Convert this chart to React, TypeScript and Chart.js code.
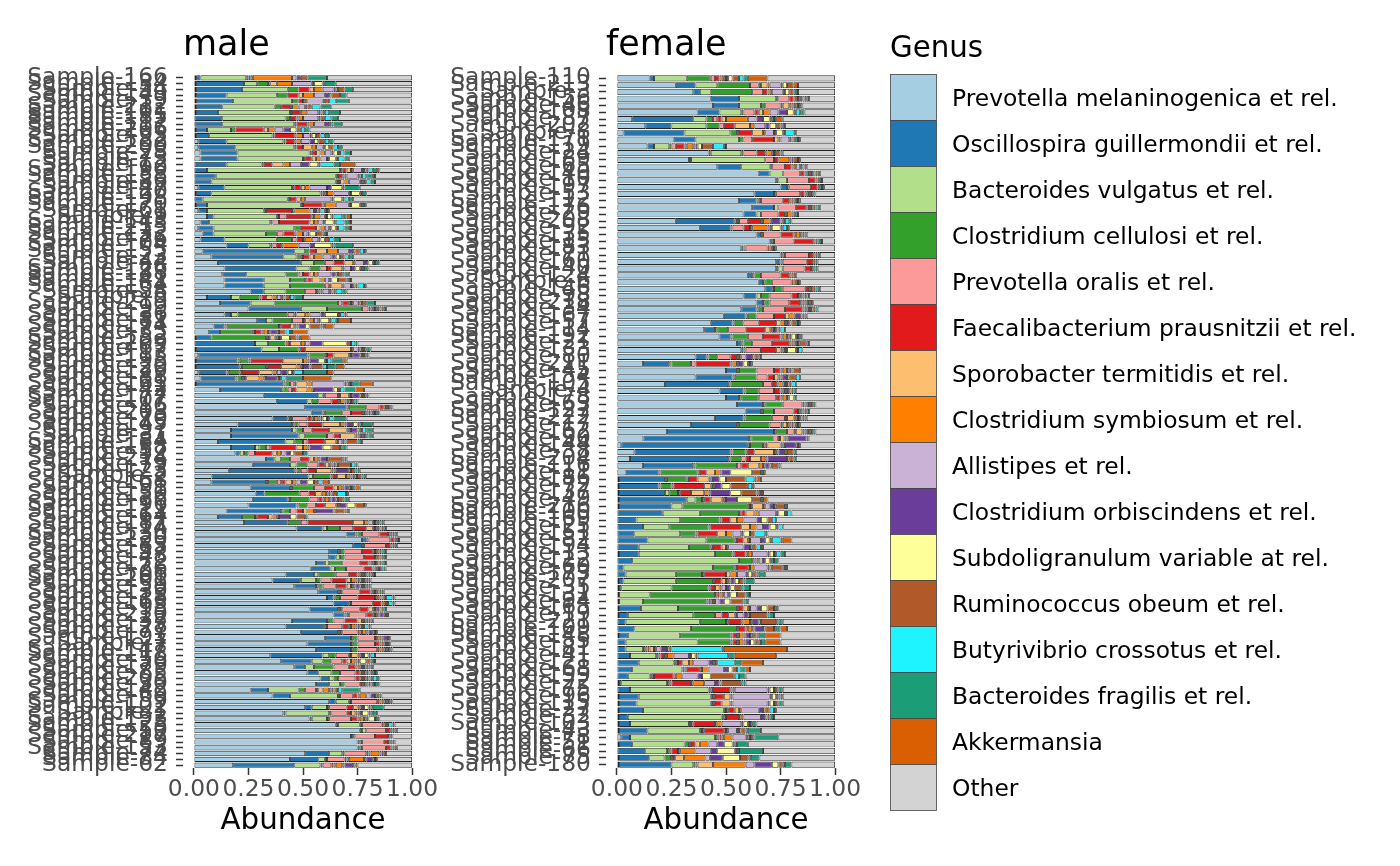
import React, { useEffect, useRef } from 'react';
import Chart from 'chart.js/auto';

const FONT = '"DejaVu Sans", sans-serif';

const genera = [
  'Prevotella melaninogenica et rel.',
  'Oscillospira guillermondii et rel.',
  'Bacteroides vulgatus et rel.',
  'Clostridium cellulosi et rel.',
  'Prevotella oralis et rel.',
  'Faecalibacterium prausnitzii et rel.',
  'Sporobacter termitidis et rel.',
  'Clostridium symbiosum et rel.',
  'Allistipes et rel.',
  'Clostridium orbiscindens et rel.',
  'Subdoligranulum variable at rel.',
  'Ruminococcus obeum et rel.',
  'Butyrivibrio crossotus et rel.',
  'Bacteroides fragilis et rel.',
  'Akkermansia',
  'Other',
];

const genusColors = [
  '#A6CEE3', '#1F78B4', '#B2DF8A', '#33A02C', '#FB9A99', '#E31A1C', '#FDBF6F', '#FF7F00',
  '#CAB2D6', '#6A3D9A', '#FFFF99', '#B15928', '#1EF4FF', '#1B9E77', '#D95F02', '#D3D3D3',
];

const xTicks = [0, 0.25, 0.5, 0.75, 1];

// sample ids, top to bottom
const maleIds = [
  166, 134, 54, 149, 39, 212, 101, 185, 117, 206, 93, 182, 200, 28, 73, 12, 190, 158, 86, 47,
  120, 198, 170, 61, 9, 143, 215, 132, 76, 104, 155, 23, 44, 126, 188, 141, 164, 58, 5, 219,
  99, 136, 81, 174, 33, 152, 209, 67, 113, 195, 20, 129, 88, 161, 42, 177, 107, 16, 203, 70,
  145, 97, 31, 184, 138, 52, 214, 79, 123, 2, 168, 91, 150, 36, 196, 111, 64, 187, 14, 130,
  220, 83, 157, 48, 172, 26, 106, 201, 59, 139, 18, 163, 95, 210, 37, 128, 77, 191, 7, 147,
  118, 56, 179, 85, 205, 30, 142, 69, 159, 102, 1, 193, 125, 50, 217, 89, 153, 74, 84, 62,
];

const femaleIds = [
  110, 213, 3, 156, 46, 108, 87, 202, 8, 171, 119, 24, 189, 65, 140, 10, 197, 53, 112, 176,
  29, 208, 92, 135, 15, 183, 71, 160, 40, 124, 6, 146, 98, 218, 34, 167, 57, 114, 192, 21,
  133, 80, 211, 45, 154, 105, 4, 178, 63, 127, 222, 17, 162, 90, 144, 38, 204, 116, 11, 186,
  72, 137, 49, 216, 100, 169, 25, 151, 82, 194, 13, 122, 60, 173, 207, 35, 131, 94, 165, 19,
  221, 109, 148, 55, 181, 41, 121, 68, 199, 22, 175, 96, 115, 27, 32, 103, 43, 78, 51, 66,
  75, 180,
];

// male, % per sample (top to bottom)
const mPrevMel = [
  1, 1, 1, 1, 1, 1, 1, 0, 0, 1, 1, 2, 2, 3, 3, 0, 0, 0, 0, 2, 1, 0, 1, 2, 6, 3, 2, 4, 3, 15,
  4, 8, 11, 14, 13, 14, 14, 26, 6, 12, 25, 14, 29, 9, 7, 1, 0, 1, 2, 1, 1, 2, 3, 1, 12, 32, 38, 51, 54, 36,
  20, 17, 17, 11, 17, 19, 33, 27, 16, 8, 8, 26, 28, 27, 25, 15, 11, 23, 47, 70, 77, 73, 62, 62, 56, 53, 42, 36, 46, 57,
  61, 64, 53, 64, 45, 42, 49, 60, 52, 56, 35, 40, 46, 52, 58, 56, 26, 36, 62, 51, 41, 53, 65, 76, 72, 75, 75, 51, 44, 18,
];
const mOsci = [
  2, 22, 21, 14, 17, 12, 10, 13, 13, 5, 6, 13, 17, 17, 17, 15, 6, 10, 8, 12, 7, 4, 5, 4, 3, 4, 7, 5, 11, 10,
  42, 33, 38, 33, 11, 18, 18, 6, 11, 14, 24, 3, 4, 5, 5, 7, 28, 30, 50, 19, 20, 13, 16, 40, 28, 25, 14, 19, 5, 7,
  25, 28, 31, 31, 11, 2, 4, 17, 30, 44, 25, 18, 4, 16, 22, 25, 11, 20, 12, 4, 2, 4, 4, 3, 4, 9, 13, 13, 10, 9,
  3, 7, 13, 5, 16, 18, 17, 12, 20, 16, 24, 14, 5, 5, 4, 6, 8, 8, 3, 3, 1, 1, 1, 1, 1, 1, 1, 11, 13, 28,
];
const mBactVulg = [
  21, 6, 21, 23, 27, 24, 33, 29, 33, 11, 29, 26, 27, 33, 30, 16, 61, 55, 57, 31, 50, 39, 43, 26, 29, 28, 37, 24, 24, 10,
  5, 6, 6, 6, 18, 12, 12, 10, 4, 11, 12, 3, 3, 1, 0, 0, 6, 8, 1, 1, 1, 1, 1, 1, 1, 2, 2, 1, 1, 1,
  1, 2, 3, 4, 2, 2, 3, 3, 1, 2, 1, 1, 0, 1, 1, 1, 0, 0, 2, 1, 1, 1, 1, 2, 2, 2, 2, 7, 1, 1,
  1, 1, 1, 1, 1, 1, 1, 1, 1, 1, 3, 5, 4, 6, 2, 5, 14, 22, 6, 7, 20, 7, 10, 2, 1, 1, 1, 6, 3, 12,
];
const mClosCell = [
  1, 5, 5, 5, 3, 3, 1, 2, 1, 2, 1, 1, 1, 1, 1, 1, 1, 1, 1, 1, 1, 1, 1, 1, 1, 1, 3, 5, 7, 1,
  2, 2, 5, 5, 6, 7, 16, 9, 9, 29, 16, 23, 9, 24, 15, 25, 8, 9, 7, 4, 11, 5, 2, 2, 2, 1, 3, 8, 8, 1,
  2, 3, 10, 4, 3, 2, 4, 5, 2, 8, 4, 10, 16, 9, 4, 3, 6, 6, 6, 2, 0, 0, 2, 2, 6, 5, 8, 2, 2, 1,
  2, 0, 1, 1, 2, 0, 1, 2, 2, 2, 3, 4, 9, 4, 2, 2, 3, 1, 1, 1, 1, 1, 1, 0, 0, 0, 0, 1, 1, 1,
];
const mPrevOral = [
  0, 1, 0, 0, 0, 0, 0, 0, 0, 0, 0, 0, 0, 0, 0, 0, 0, 0, 0, 0, 0, 0, 0, 0, 3, 3, 0, 3, 2, 2,
  0, 1, 4, 3, 2, 1, 2, 5, 1, 2, 3, 3, 5, 1, 1, 1, 1, 1, 1, 1, 1, 1, 1, 2, 2, 6, 6, 6, 4, 7,
  4, 4, 3, 2, 2, 3, 5, 5, 3, 1, 2, 5, 4, 4, 4, 3, 1, 3, 6, 8, 10, 10, 8, 9, 8, 8, 6, 5, 6, 8,
  8, 10, 8, 8, 5, 7, 7, 8, 8, 9, 6, 5, 7, 7, 8, 7, 5, 6, 12, 8, 7, 10, 9, 9, 9, 10, 11, 10, 8, 4,
];
const mFaecal = [
  1, 0, 5, 5, 2, 4, 4, 3, 5, 13, 9, 4, 3, 2, 3, 4, 2, 2, 1, 3, 1, 3, 9, 12, 12, 14, 7, 5, 3, 2,
  3, 3, 5, 2, 3, 2, 1, 1, 2, 3, 1, 1, 1, 4, 3, 1, 1, 2, 3, 15, 6, 8, 1, 1, 2, 1, 3, 2, 5, 2,
  7, 8, 3, 8, 12, 8, 4, 3, 4, 2, 2, 4, 3, 2, 4, 3, 5, 21, 6, 4, 2, 2, 5, 5, 4, 4, 4, 7, 5, 5,
  8, 4, 4, 3, 6, 3, 1, 1, 2, 1, 1, 2, 3, 2, 2, 1, 1, 2, 1, 3, 2, 3, 1, 2, 6, 2, 2, 1, 1, 1,
];
const mSporo = [
  1, 3, 2, 2, 1, 1, 0, 1, 1, 2, 1, 1, 4, 2, 2, 5, 2, 1, 2, 2, 1, 2, 1, 1, 1, 2, 2, 1, 1, 1,
  5, 2, 4, 5, 2, 4, 5, 1, 3, 1, 1, 4, 2, 2, 1, 2, 5, 21, 7, 9, 7, 6, 6, 5, 5, 4, 1, 1, 1, 1,
  8, 8, 7, 5, 3, 2, 2, 2, 7, 4, 3, 2, 3, 1, 5, 2, 2, 5, 3, 1, 0, 1, 1, 1, 1, 1, 1, 2, 2, 1,
  1, 1, 2, 1, 2, 1, 1, 1, 1, 1, 3, 2, 1, 1, 1, 1, 2, 1, 1, 2, 2, 1, 1, 0, 1, 1, 1, 1, 1, 1,
];
const mClosSymb = [
  18, 7, 4, 5, 1, 3, 3, 2, 2, 3, 3, 2, 2, 2, 2, 3, 1, 1, 2, 2, 3, 2, 5, 7, 3, 2, 2, 3, 3, 7,
  5, 4, 1, 1, 2, 2, 1, 1, 2, 1, 1, 2, 2, 1, 2, 1, 2, 1, 1, 2, 2, 2, 2, 2, 2, 1, 2, 1, 1, 2,
  2, 1, 1, 1, 2, 2, 2, 1, 1, 2, 2, 2, 2, 2, 1, 3, 2, 2, 1, 1, 0, 0, 1, 1, 1, 1, 1, 2, 1, 1,
  1, 1, 1, 1, 1, 2, 2, 1, 1, 1, 1, 2, 1, 1, 1, 1, 3, 3, 1, 1, 1, 2, 1, 1, 0, 1, 1, 4, 7, 3,
];
const mAlis = [
  2, 9, 5, 5, 7, 3, 5, 7, 5, 4, 3, 4, 3, 3, 3, 5, 4, 5, 5, 8, 7, 12, 6, 2, 2, 2, 2, 2, 3, 5,
  5, 4, 4, 3, 6, 2, 3, 3, 2, 2, 1, 5, 2, 1, 1, 1, 2, 2, 1, 1, 1, 2, 1, 15, 1, 1, 1, 0, 1, 1,
  1, 1, 1, 2, 1, 2, 1, 1, 1, 1, 2, 1, 1, 1, 1, 1, 1, 2, 1, 0, 0, 0, 1, 1, 1, 1, 1, 1, 1, 1,
  1, 0, 1, 1, 1, 1, 1, 1, 1, 1, 1, 1, 1, 1, 1, 1, 1, 2, 1, 1, 1, 1, 0, 0, 0, 0, 0, 1, 1, 1,
];
const mClosOrb = [
  2, 1, 1, 2, 1, 1, 1, 1, 2, 3, 1, 2, 1, 1, 1, 4, 1, 1, 1, 2, 1, 1, 1, 1, 1, 1, 1, 1, 1, 2,
  2, 2, 2, 2, 2, 1, 1, 1, 1, 1, 1, 2, 1, 3, 3, 1, 6, 1, 3, 4, 3, 3, 5, 1, 9, 3, 1, 0, 1, 1,
  3, 3, 1, 1, 6, 2, 3, 1, 6, 1, 3, 2, 1, 2, 3, 8, 5, 1, 1, 0, 0, 0, 0, 0, 1, 0, 1, 1, 2, 0,
  0, 0, 1, 2, 1, 1, 2, 2, 1, 0, 1, 1, 1, 1, 1, 1, 1, 2, 0, 1, 1, 1, 0, 0, 0, 0, 0, 1, 3, 4,
];
const mSubdol = [
  0, 4, 1, 1, 0, 0, 1, 0, 0, 3, 2, 2, 2, 2, 3, 4, 1, 1, 1, 5, 4, 4, 4, 1, 2, 4, 2, 3, 2, 8,
  1, 2, 2, 2, 1, 3, 1, 1, 1, 1, 1, 6, 4, 2, 1, 4, 11, 1, 1, 3, 1, 2, 1, 1, 2, 1, 1, 0, 1, 2,
  2, 1, 1, 1, 4, 2, 1, 1, 1, 1, 3, 1, 1, 1, 4, 1, 3, 1, 1, 0, 0, 0, 0, 0, 1, 0, 1, 1, 1, 1,
  1, 0, 1, 0, 0, 1, 1, 0, 0, 1, 2, 3, 1, 1, 1, 1, 1, 1, 1, 2, 3, 3, 0, 0, 0, 0, 0, 0, 1, 1,
];
const mRumin = [
  3, 1, 3, 4, 2, 2, 1, 2, 1, 2, 2, 3, 2, 1, 1, 1, 1, 0, 1, 1, 1, 1, 1, 1, 1, 1, 1, 3, 2, 1,
  2, 2, 1, 1, 2, 4, 1, 1, 2, 2, 1, 1, 1, 5, 3, 3, 2, 1, 1, 1, 5, 1, 1, 1, 1, 1, 1, 1, 1, 1,
  1, 1, 1, 5, 4, 4, 6, 6, 2, 2, 2, 1, 2, 2, 4, 4, 4, 1, 1, 1, 1, 1, 1, 1, 1, 1, 1, 1, 1, 1,
  1, 1, 1, 1, 1, 1, 1, 1, 1, 1, 1, 2, 1, 1, 1, 1, 1, 1, 1, 1, 1, 1, 0, 1, 1, 1, 1, 1, 1, 1,
];
const mButy = [
  0, 0, 0, 0, 3, 4, 2, 3, 1, 2, 2, 2, 2, 2, 3, 6, 2, 2, 2, 0, 0, 2, 1, 2, 4, 4, 3, 1, 2, 1,
  2, 2, 1, 1, 1, 1, 3, 3, 2, 0, 0, 2, 2, 1, 2, 1, 2, 1, 1, 2, 2, 4, 2, 1, 2, 1, 1, 1, 1, 2,
  1, 2, 1, 1, 1, 1, 1, 2, 1, 1, 2, 1, 4, 1, 1, 1, 1, 1, 1, 1, 0, 0, 1, 0, 1, 1, 1, 1, 1, 0,
  3, 2, 1, 0, 1, 2, 0, 0, 0, 1, 2, 1, 1, 1, 2, 1, 2, 0, 0, 1, 1, 0, 2, 1, 0, 0, 0, 0, 0, 0,
];
const mBactFrag = [
  9, 5, 4, 3, 6, 5, 5, 3, 4, 2, 2, 2, 2, 3, 2, 3, 2, 3, 2, 7, 2, 2, 1, 1, 2, 2, 2, 1, 3, 8,
  1, 2, 1, 2, 2, 1, 1, 2, 4, 4, 1, 1, 1, 1, 1, 1, 1, 2, 1, 5, 4, 11, 8, 3, 5, 1, 1, 0, 1, 6,
  5, 3, 2, 1, 2, 1, 1, 1, 1, 1, 0, 0, 1, 2, 0, 1, 0, 1, 0, 0, 1, 1, 1, 1, 1, 1, 1, 1, 1, 1,
  1, 1, 0, 1, 0, 1, 0, 0, 0, 0, 0, 1, 1, 1, 1, 1, 8, 1, 1, 5, 2, 1, 1, 0, 0, 0, 0, 0, 0, 0,
];
const mAkker = [
  0, 0, 0, 0, 0, 0, 0, 0, 0, 0, 0, 0, 0, 0, 0, 7, 1, 1, 0, 0, 0, 0, 0, 1, 2, 1, 1, 0, 0, 0,
  0, 0, 0, 0, 0, 0, 0, 0, 0, 0, 0, 0, 6, 4, 7, 4, 0, 0, 0, 2, 4, 3, 13, 6, 4, 0, 0, 0, 0, 0,
  0, 0, 0, 0, 0, 0, 0, 0, 0, 0, 3, 2, 0, 0, 0, 0, 0, 0, 0, 0, 0, 0, 0, 0, 0, 0, 0, 1, 1, 0,
  0, 0, 0, 0, 0, 0, 0, 0, 0, 0, 0, 0, 0, 0, 0, 0, 0, 0, 0, 0, 0, 0, 0, 0, 0, 0, 0, 0, 0, 0,
];
const mOther = [
  39, 35, 27, 30, 29, 37, 33, 34, 32, 47, 38, 36, 32, 28, 29, 26, 15, 17, 17, 24, 21, 27, 21, 38, 28, 28, 28, 39, 33, 27,
  21, 27, 15, 20, 29, 28, 21, 30, 50, 17, 12, 30, 28, 36, 48, 47, 25, 19, 20, 30, 31, 36, 37, 18, 22, 20, 25, 9, 15, 30,
  18, 18, 18, 23, 30, 48, 30, 25, 24, 21, 38, 24, 29, 29, 21, 29, 48, 13, 12, 7, 6, 7, 12, 12, 12, 12, 17, 19, 19, 13,
  8, 8, 12, 11, 18, 19, 16, 10, 10, 9, 17, 17, 18, 16, 15, 15, 24, 14, 9, 13, 16, 15, 8, 7, 9, 8, 7, 12, 16, 25,
];

// female, % per sample (top to bottom)
const fPrevMel = [
  15, 27, 35, 43, 44, 37, 7, 13, 3, 26, 14, 42, 33, 46, 65, 73, 75, 63, 56, 62, 58, 27, 38, 64, 70, 57, 75, 73, 73, 60,
  65, 68, 58, 64, 57, 49, 43, 40, 47, 55, 57, 36, 12, 50, 36, 22, 47, 50, 55, 59, 45, 34, 23, 12, 2, 8, 6, 12, 4, 1,
  1, 1, 1, 1, 0, 0, 0, 0, 0, 0, 1, 0, 0, 0, 1, 1, 0, 0, 1, 1, 0, 0, 1, 0, 0, 0, 0, 0, 0, 1,
  0, 1, 1, 1, 1, 1, 1, 2, 1, 0, 1, 1,
];
const fOsci = [
  2, 9, 3, 13, 12, 10, 28, 12, 28, 10, 3, 1, 1, 11, 5, 1, 3, 9, 8, 10, 6, 27, 14, 2, 1, 1, 1, 2, 1, 2,
  2, 3, 6, 3, 7, 10, 10, 5, 5, 2, 1, 5, 12, 5, 17, 29, 11, 6, 12, 7, 13, 21, 49, 48, 58, 44, 45, 23, 15, 21,
  18, 21, 31, 24, 21, 9, 12, 8, 14, 10, 9, 7, 3, 4, 2, 1, 1, 1, 10, 4, 4, 8, 4, 4, 4, 6, 10, 7, 5, 1,
  6, 9, 8, 11, 4, 5, 13, 4, 6, 13, 14, 24,
];
const fBactVulg = [
  15, 10, 5, 17, 10, 10, 6, 16, 21, 20, 7, 14, 34, 13, 6, 4, 1, 1, 1, 2, 2, 1, 1, 1, 1, 1, 1, 1, 2, 1,
  1, 1, 2, 1, 1, 1, 1, 1, 1, 1, 1, 1, 1, 1, 1, 1, 1, 1, 1, 1, 1, 1, 1, 1, 1, 1, 1, 1, 1, 1,
  1, 2, 4, 5, 17, 20, 12, 21, 27, 23, 35, 49, 41, 23, 24, 23, 14, 11, 17, 30, 34, 26, 24, 33, 8, 12, 16, 23, 10, 21,
  36, 33, 34, 37, 43, 27, 24, 39, 24, 10, 7, 10,
];
const fClosCell = [
  11, 15, 19, 1, 2, 1, 3, 6, 3, 2, 1, 1, 0, 1, 0, 0, 0, 0, 1, 0, 0, 1, 0, 0, 0, 0, 0, 0, 0, 3,
  3, 4, 4, 2, 2, 4, 4, 5, 7, 4, 0, 4, 9, 8, 10, 15, 6, 8, 8, 5, 12, 14, 5, 10, 6, 6, 5, 19, 17, 9,
  5, 4, 3, 30, 18, 18, 18, 7, 13, 10, 8, 6, 10, 12, 17, 17, 30, 29, 27, 10, 12, 21, 23, 15, 1, 1, 1, 1, 1, 1,
  1, 1, 1, 1, 1, 1, 1, 1, 2, 1, 3, 1,
];
const fPrevOral = [
  2, 4, 5, 5, 7, 5, 2, 2, 1, 4, 2, 6, 4, 6, 8, 10, 10, 11, 10, 8, 8, 4, 5, 8, 9, 10, 11, 11, 10, 9,
  9, 10, 10, 9, 10, 8, 7, 8, 7, 9, 7, 6, 2, 8, 5, 4, 7, 8, 9, 9, 6, 5, 3, 2, 1, 1, 2, 2, 1, 1,
  1, 1, 1, 1, 1, 1, 1, 1, 1, 1, 1, 1, 1, 1, 1, 1, 1, 1, 1, 3, 1, 1, 1, 1, 1, 1, 1, 1, 1, 1,
  1, 1, 1, 1, 1, 1, 1, 1, 1, 1, 1, 1,
];
const fFaecal = [
  2, 1, 2, 2, 1, 2, 2, 5, 6, 10, 4, 4, 2, 3, 2, 3, 3, 2, 3, 5, 3, 6, 3, 6, 9, 1, 2, 3, 3, 4,
  1, 2, 3, 5, 8, 5, 8, 9, 8, 8, 7, 3, 16, 3, 3, 2, 3, 2, 1, 2, 1, 1, 1, 1, 1, 3, 2, 3, 3, 4,
  14, 5, 3, 1, 2, 4, 14, 9, 3, 4, 5, 0, 5, 10, 3, 2, 1, 1, 2, 3, 6, 3, 2, 2, 1, 2, 2, 6, 9, 9,
  8, 4, 3, 3, 6, 10, 9, 1, 2, 3, 1, 0,
];
const fSporo = [
  1, 3, 1, 1, 3, 2, 2, 7, 5, 2, 1, 1, 0, 1, 1, 1, 0, 1, 1, 1, 1, 1, 1, 1, 1, 1, 1, 0, 0, 1,
  1, 1, 1, 1, 1, 2, 2, 2, 1, 1, 2, 1, 1, 1, 2, 1, 1, 1, 1, 1, 3, 2, 3, 2, 6, 9, 5, 5, 4, 5,
  3, 6, 5, 5, 4, 3, 4, 4, 2, 2, 1, 1, 1, 2, 2, 2, 1, 1, 2, 3, 1, 1, 1, 1, 2, 1, 3, 1, 1, 1,
  1, 3, 4, 2, 1, 1, 1, 1, 2, 1, 4, 7,
];
const fClosSymb = [
  1, 1, 1, 1, 1, 3, 10, 2, 1, 1, 3, 2, 5, 1, 1, 0, 0, 1, 1, 1, 2, 3, 7, 2, 0, 0, 0, 0, 0, 1,
  1, 1, 1, 1, 1, 2, 2, 1, 2, 1, 1, 1, 2, 2, 1, 2, 1, 2, 1, 1, 1, 1, 1, 1, 1, 1, 2, 2, 2, 1,
  1, 2, 1, 1, 2, 3, 3, 3, 1, 1, 2, 1, 2, 3, 1, 1, 1, 1, 1, 1, 3, 2, 2, 2, 1, 3, 2, 3, 3, 5,
  1, 1, 1, 1, 1, 2, 1, 4, 4, 7, 10, 15,
];
const fAlis = [
  1, 5, 5, 1, 1, 4, 4, 5, 4, 4, 1, 1, 1, 2, 1, 0, 0, 1, 1, 1, 1, 1, 1, 1, 0, 0, 0, 0, 0, 0,
  0, 0, 1, 1, 1, 1, 1, 1, 1, 1, 1, 2, 1, 1, 1, 1, 1, 1, 1, 1, 1, 1, 1, 1, 1, 1, 1, 1, 1, 1,
  1, 1, 1, 2, 8, 6, 3, 4, 5, 7, 7, 2, 6, 4, 1, 2, 2, 2, 3, 3, 1, 1, 1, 1, 2, 7, 7, 7, 7, 5,
  15, 17, 16, 8, 8, 9, 4, 6, 4, 7, 2, 4,
];
const fClosOrb = [
  1, 1, 1, 1, 1, 4, 3, 2, 1, 1, 1, 1, 1, 1, 1, 0, 0, 0, 1, 0, 0, 4, 1, 0, 0, 0, 0, 0, 0, 0,
  0, 0, 1, 1, 1, 2, 1, 1, 1, 1, 1, 3, 2, 1, 2, 1, 1, 0, 0, 0, 1, 1, 1, 8, 5, 3, 9, 2, 4, 3,
  3, 9, 5, 2, 1, 2, 3, 1, 2, 3, 1, 1, 1, 1, 2, 2, 1, 2, 2, 2, 3, 4, 2, 2, 3, 1, 2, 2, 2, 2,
  1, 1, 1, 2, 2, 1, 1, 1, 3, 3, 6, 8,
];
const fSubdol = [
  2, 2, 2, 1, 1, 3, 3, 3, 3, 1, 2, 0, 0, 1, 1, 0, 0, 0, 1, 0, 0, 1, 4, 0, 0, 0, 0, 0, 0, 0,
  0, 0, 1, 1, 1, 1, 1, 1, 2, 1, 4, 1, 2, 1, 1, 1, 1, 2, 0, 0, 1, 1, 1, 0, 1, 1, 1, 1, 10, 3,
  4, 5, 7, 1, 3, 3, 3, 3, 2, 1, 2, 2, 1, 2, 2, 2, 3, 3, 3, 1, 1, 1, 1, 2, 1, 2, 1, 2, 4, 1,
  2, 2, 2, 1, 1, 2, 1, 1, 4, 8, 8, 3,
];
const fRumin = [
  3, 3, 2, 1, 1, 1, 1, 2, 1, 1, 5, 2, 2, 1, 1, 1, 1, 1, 0, 1, 1, 1, 1, 1, 1, 1, 1, 1, 1, 1,
  1, 1, 0, 1, 1, 1, 2, 1, 1, 3, 1, 2, 1, 3, 3, 1, 1, 0, 1, 1, 1, 1, 1, 1, 1, 3, 2, 3, 4, 9,
  8, 7, 4, 4, 1, 2, 1, 2, 1, 2, 1, 1, 5, 2, 2, 3, 4, 6, 3, 8, 7, 4, 2, 2, 1, 1, 1, 2, 11, 9,
  1, 1, 1, 2, 1, 1, 2, 1, 1, 1, 4, 2,
];
const fButy = [
  2, 0, 1, 1, 1, 2, 1, 1, 4, 1, 5, 1, 0, 0, 0, 0, 1, 1, 0, 1, 1, 2, 2, 1, 1, 1, 0, 0, 1, 0,
  0, 1, 0, 0, 1, 1, 1, 2, 1, 1, 2, 1, 1, 0, 2, 2, 1, 1, 0, 1, 1, 1, 1, 0, 0, 1, 1, 1, 1, 4,
  2, 1, 1, 1, 2, 2, 2, 5, 4, 2, 2, 1, 1, 1, 1, 1, 1, 1, 1, 1, 1, 1, 1, 1, 23, 14, 8, 2, 2, 1,
  1, 1, 1, 2, 1, 1, 1, 1, 1, 1, 1, 1,
];
const fBactFrag = [
  2, 0, 1, 0, 0, 2, 1, 1, 1, 1, 1, 0, 1, 0, 1, 1, 1, 0, 0, 1, 0, 1, 1, 0, 1, 0, 1, 1, 1, 0,
  0, 1, 0, 0, 0, 0, 1, 0, 1, 0, 0, 0, 0, 0, 0, 0, 0, 0, 1, 0, 0, 0, 0, 0, 0, 0, 0, 0, 0, 1,
  1, 1, 0, 0, 0, 0, 0, 1, 1, 1, 2, 2, 1, 3, 4, 3, 1, 1, 1, 2, 2, 2, 3, 2, 1, 3, 3, 2, 3, 1,
  2, 1, 2, 1, 1, 2, 6, 11, 5, 11, 4, 3,
];
const fAkker = [
  9, 2, 0, 0, 0, 0, 3, 0, 0, 0, 0, 0, 0, 0, 0, 0, 0, 0, 0, 0, 0, 0, 0, 0, 0, 0, 0, 0, 0, 0,
  0, 0, 0, 0, 0, 0, 0, 0, 0, 0, 0, 0, 0, 0, 0, 0, 0, 0, 0, 0, 0, 0, 0, 0, 0, 0, 0, 0, 1, 2,
  0, 1, 2, 0, 0, 0, 0, 0, 4, 0, 0, 0, 0, 0, 0, 0, 0, 0, 0, 0, 0, 3, 7, 7, 29, 19, 10, 2, 0, 0,
  0, 0, 0, 0, 0, 0, 0, 0, 0, 0, 0, 0,
];
const fOther = [
  31, 17, 17, 12, 15, 14, 24, 23, 18, 16, 50, 24, 16, 13, 7, 6, 5, 9, 16, 7, 17, 20, 21, 13, 6, 27, 7, 8, 8, 18,
  16, 7, 12, 10, 8, 13, 16, 23, 15, 12, 15, 34, 38, 16, 16, 18, 18, 18, 9, 12, 13, 16, 9, 12, 16, 18, 18, 25, 32, 34,
  37, 33, 31, 22, 20, 27, 24, 31, 20, 33, 23, 26, 22, 32, 37, 39, 39, 40, 26, 28, 24, 22, 25, 25, 22, 27, 33, 39, 41, 41,
  24, 24, 24, 27, 28, 36, 34, 26, 40, 33, 35, 20,
];

const maleSeries = [
  mPrevMel, mOsci, mBactVulg, mClosCell, mPrevOral, mFaecal, mSporo, mClosSymb,
  mAlis, mClosOrb, mSubdol, mRumin, mButy, mBactFrag, mAkker, mOther,
];
const femaleSeries = [
  fPrevMel, fOsci, fBactVulg, fClosCell, fPrevOral, fFaecal, fSporo, fClosSymb,
  fAlis, fClosOrb, fSubdol, fRumin, fButy, fBactFrag, fAkker, fOther,
];

const CANVAS_W = 440;
const CANVAS_H = 866;
const TEXT_SIZE = 23.4;
const TITLE_SIZE = 29.3;

interface PanelProps {
  title: string;
  ids: number[];
  series: number[][];
  left: number;
}

const AbundancePanel: React.FC<PanelProps> = ({ title, ids, series, left }) => {
  const canvasRef = useRef<HTMLCanvasElement>(null);

  useEffect(() => {
    if (!canvasRef.current) return;
    const labels = ids.map((n) => `Sample-${n}`);
    // relative abundance: each sample sums to 1
    const totals = ids.map((_, i) => series.reduce((s, arr) => s + arr[i], 0));

    const panelTitle = {
      id: 'panelTitle',
      afterDraw(chart: Chart) {
        const { ctx, chartArea } = chart;
        ctx.save();
        ctx.font = `35px ${FONT}`;
        ctx.fillStyle = '#000';
        ctx.textBaseline = 'alphabetic';
        ctx.textAlign = 'left';
        ctx.fillText(title, chartArea.left, 55);
        ctx.restore();
      },
    };

    const chart = new Chart(canvasRef.current, {
      type: 'bar',
      data: {
        labels,
        datasets: series.map((arr, k) => ({
          label: genera[k],
          data: arr.map((v, i) => v / totals[i]),
          backgroundColor: genusColors[k],
          borderColor: '#262626',
          borderWidth: 0.9,
          borderSkipped: false,
          barPercentage: 0.9,
          categoryPercentage: 1,
        })),
      },
      options: {
        indexAxis: 'y',
        responsive: false,
        animation: false,
        devicePixelRatio: 1,
        layout: { padding: { top: 75, right: 17, left: 0, bottom: 0 } },
        plugins: { legend: { display: false }, tooltip: { enabled: false } },
        scales: {
          x: {
            stacked: true,
            min: -0.05,
            max: 1.05,
            afterBuildTicks: (scale: any) => {
              scale.ticks = xTicks.map((value) => ({ value }));
            },
            afterFit: (scale: any) => {
              scale.height = 98;
            },
            ticks: {
              autoSkip: false,
              maxRotation: 0,
              minRotation: 0,
              padding: 1,
              color: '#4D4D4D',
              font: { family: FONT, size: TEXT_SIZE },
              callback: (v: any) => Number(v).toFixed(2),
            },
            grid: { drawOnChartArea: false, tickLength: 7, tickColor: '#333', tickWidth: 1.5 },
            border: { display: false },
            title: {
              display: true,
              text: 'Abundance',
              color: '#000',
              font: { family: FONT, size: TITLE_SIZE },
              padding: { top: 0, bottom: 27 },
            },
          },
          y: {
            stacked: true,
            afterFit: (scale: any) => {
              scale.width = 183;
            },
            ticks: {
              autoSkip: false,
              padding: 8,
              color: '#4D4D4D',
              font: { family: FONT, size: TEXT_SIZE },
            },
            grid: { drawOnChartArea: false, offset: false, tickLength: 7, tickColor: '#333', tickWidth: 1.5 },
            border: { display: false },
          },
        },
      },
      plugins: [panelTitle],
    });

    return () => {
      chart.destroy();
    };
  }, [title, ids, series]);

  return (
    <canvas
      ref={canvasRef}
      width={CANVAS_W}
      height={CANVAS_H}
      style={{ position: 'absolute', left, top: 0, width: CANVAS_W, height: CANVAS_H }}
    />
  );
};

const GenusLegend: React.FC = () => (
  <svg
    width={1400}
    height={866}
    style={{ position: 'absolute', left: 0, top: 0, pointerEvents: 'none' }}
  >
    <text x={890} y={57} fontFamily="DejaVu Sans" fontSize={TITLE_SIZE} fill="#000">
      Genus
    </text>
    {genera.map((name, i) => (
      <g key={name}>
        <rect
          x={890.5}
          y={74.5 + i * 46}
          width={46}
          height={46}
          fill={genusColors[i]}
          stroke="#444"
          strokeWidth={0.8}
        />
        <text x={952} y={106 + i * 46} fontFamily="DejaVu Sans" fontSize={TEXT_SIZE} fill="#000">
          {name}
        </text>
      </g>
    ))}
  </svg>
);

export default function App() {
  return (
    <div
      style={{
        position: 'fixed',
        left: 0,
        top: 0,
        width: 1400,
        height: 866,
        background: '#fff',
        overflow: 'hidden',
      }}
    >
      <AbundancePanel title="male" ids={maleIds} series={maleSeries} left={0} />
      <AbundancePanel title="female" ids={femaleIds} series={femaleSeries} left={423} />
      <GenusLegend />
    </div>
  );
}
